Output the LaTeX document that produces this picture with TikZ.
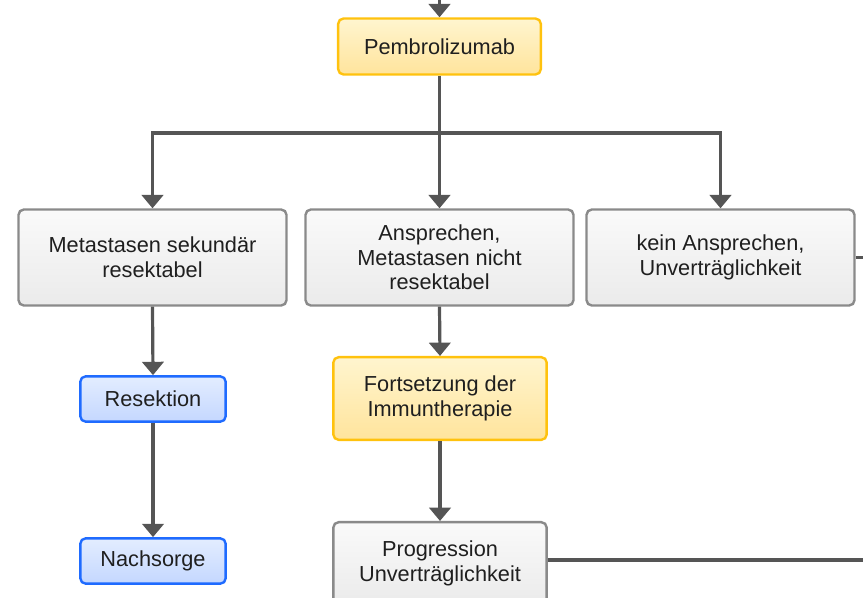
\documentclass[tikz,border=0pt]{standalone}
\usepackage{fontspec}
\setmainfont{Liberation Sans}
\usetikzlibrary{arrows.meta,positioning}
\definecolor{tpyellow}{HTML}{FFC20E}
\definecolor{tpblue}{HTML}{1F6BFF}
\definecolor{tpgrey}{HTML}{8A8A8A}
\definecolor{tpline}{HTML}{555555}
\definecolor{bluetop}{HTML}{E3EDFF}
\definecolor{bluebot}{HTML}{C4D7FF}
\definecolor{yellowtop}{HTML}{FFF5CF}
\definecolor{yellowbot}{HTML}{FFE49C}

\begin{document}
\begin{tikzpicture}[
  x=0.75pt, y=-0.75pt,
  box/.style={draw, rounded corners=4pt, align=center, line width=1.8pt, inner sep=0pt,
    font=\fontsize{16.3}{18.5}\selectfont, text=black!88},
  yellowbox/.style={box, draw=tpyellow, top color=yellowtop, bottom color=yellowbot},
  greybox/.style={box, draw=tpgrey, top color=black!2, bottom color=black!8},
  bluebox/.style={box, draw=tpblue, top color=bluetop, bottom color=bluebot},
  link/.style={draw=tpline, line width=2.4pt},
  arr/.style={link, -{Triangle[width=16pt, length=10pt]}}
]
\useasboundingbox (0,0) rectangle (863,597);

% Therapy start
\node[yellowbox, minimum width=152pt, minimum height=42pt] (pem) at (439.5,46.5) {Pembrolizumab};

% Response branches
\node[greybox, minimum width=201pt, minimum height=72pt] (sek) at (152.5,257.5) {Metastasen sekundär\\resektabel};
\node[greybox, minimum width=201pt, minimum height=72pt] (nicht) at (439.5,257.5) {Ansprechen,\\Metastasen nicht\\resektabel};
\node[greybox, minimum width=201pt, minimum height=72pt] (kein) at (720.5,257.5) {kein Ansprechen,\\Unverträglichkeit};

% Left path
\node[bluebox, minimum width=109pt, minimum height=34pt] (res) at (153,399) {Resektion};
\node[bluebox, minimum width=109pt, minimum height=34pt] (nach) at (153,561) {Nachsorge};

% Middle path
\node[yellowbox, minimum width=160pt, minimum height=62pt] (fort) at (440,398.5) {Fortsetzung der\\Immuntherapie};
\node[greybox, minimum width=160pt, minimum height=62pt] (prog) at (440,563.5) {Progression\\Unverträglichkeit};

% Free ends
\coordinate (topin) at (439.5,0);
\coordinate (split) at (439.5,133);
\coordinate (keinout) at (863,257.5);
\coordinate (progout) at (863,560);

% Connectors
\draw[arr] (topin) -- (pem.north);
\draw[link] (pem.south) -- (split);
\draw[arr] (split) -| (sek.north);
\draw[arr] (split) -- (nicht.north);
\draw[arr] (split) -| (kein.north);
\draw[link] (kein.east) -- (keinout);
\draw[arr] (sek.south) -- (res.north);
\draw[arr] (res.south) -- (nach.north);
\draw[arr] (nicht.south) -- (fort.north);
\draw[arr] (fort.south) -- (prog.north);
\draw[link] (prog.east |- progout) -- (progout);

\end{tikzpicture}
\end{document}
